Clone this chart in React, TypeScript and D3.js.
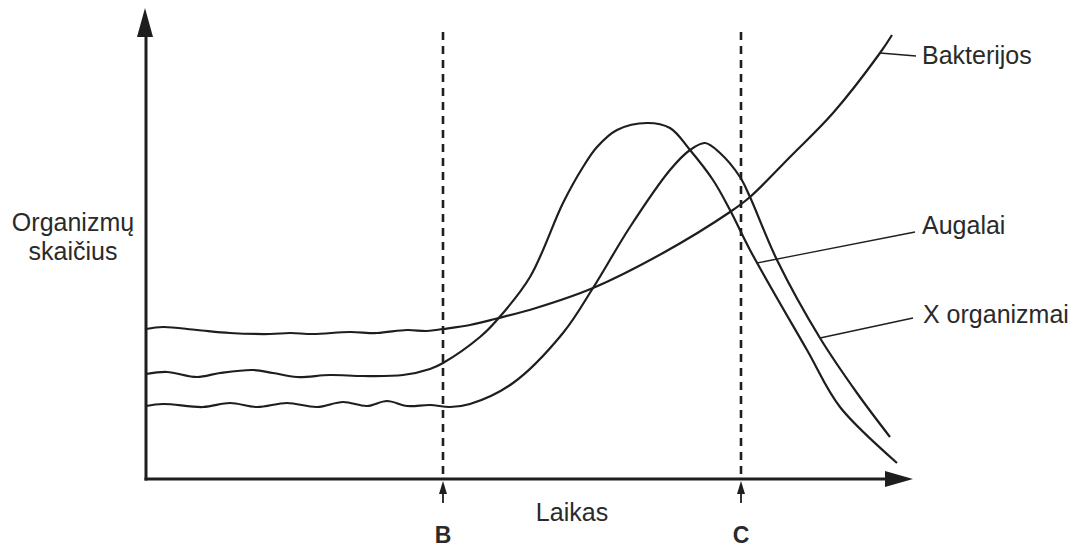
import React from "react";
import * as d3 from "d3";

// Time (arbitrary units) and organism counts (arbitrary units)
const bacteriaT = [0, 17, 51, 84, 124, 144, 167, 204, 231, 261, 281, 297, 324, 349, 390, 447, 517, 584, 604, 644, 687, 734, 746];
const bacteriaN = [150, 152, 149, 146, 145, 146, 145, 147, 146, 149, 148, 150, 154, 160, 171, 191, 226, 267, 282, 322, 366, 426, 444];

const plantT = [0, 21, 51, 74, 107, 127, 151, 184, 217, 257, 284, 297, 334, 351, 384, 417, 437, 451, 471, 501, 524, 544, 567, 584, 604, 661, 694, 751];
const plantN = [105, 107, 102, 106, 109, 106, 102, 104, 103, 104, 110, 116, 142, 159, 202, 276, 312, 332, 349, 356, 351, 329, 299, 269, 229, 129, 72, 16];

const xOrgT = [0, 17, 57, 84, 111, 141, 171, 197, 221, 241, 261, 284, 304, 324, 367, 417, 447, 484, 524, 544, 559, 574, 594, 604, 631, 674, 711, 744];
const xOrgN = [73, 75, 72, 76, 72, 76, 72, 77, 73, 78, 73, 74, 72, 75, 96, 146, 191, 252, 309, 329, 336, 326, 302, 282, 219, 141, 86, 42];

const markerLabels = ["B", "C"];
const markerTimes = [297, 595];

const seriesLabels = ["Bakterijos", "Augalai", "X organizmai"];
// anchor point on each curve for the leader line (time, count)
const anchorT = [734, 611, 674];
const anchorN = [426, 216, 141];

const yLabelLines = ["Organizmų", "skaičius"];
const xLabel = "Laikas";

export default function App() {
  const W = 1082, H = 548;
  const x0 = 146, x1 = 906, yBase = 479, yTop = 9;
  const x = d3.scaleLinear().domain([0, 760]).range([x0, x1]);
  const y = d3.scaleLinear().domain([0, 470]).range([yBase, yTop]);
  const line = d3
    .line<[number, number]>()
    .x((d) => x(d[0]))
    .y((d) => y(d[1]))
    .curve(d3.curveCatmullRom.alpha(0.5));

  const zip = (a: number[], b: number[]) => a.map((v, i) => [v, b[i]] as [number, number]);
  const curves = [zip(bacteriaT, bacteriaN), zip(plantT, plantN), zip(xOrgT, xOrgN)];

  const stroke = "#1e1e1e";
  const textFill = "#2a2a2a";
  const font = "'Liberation Sans', Arial, Helvetica, sans-serif";

  // label layout
  const labelX = [916, 915, 913];
  const labelY = [56, 232, 318];
  const textX = [922, 922, 923];
  const textBase = [64, 234, 323];

  return (
    <svg width={W} height={H} style={{ position: "absolute", left: 0, top: 0, background: "#fff" }} fontFamily={font}>
      {/* dashed markers */}
      {markerTimes.map((t, i) => (
        <g key={markerLabels[i]}>
          <line x1={x(t)} x2={x(t)} y1={32} y2={yBase} stroke={stroke} strokeWidth={2.6} strokeDasharray="8,6" />
          <line x1={x(t)} x2={x(t)} y1={490} y2={503} stroke={stroke} strokeWidth={1.8} />
          <path d={`M${x(t)},481 L${x(t) - 4},494 L${x(t) + 4},494 Z`} fill={stroke} />
          <text x={x(t)} y={543} textAnchor="middle" fontSize={23} fontWeight="bold" fill={textFill}>
            {markerLabels[i]}
          </text>
        </g>
      ))}

      {/* axes */}
      <line x1={x0} x2={x0} y1={30} y2={yBase + 1.5} stroke={stroke} strokeWidth={3} />
      <path d={`M${x0 - 1},8 L${x0 - 9},37 L${x0 + 7},37 Z`} fill={stroke} />
      <line x1={x0 - 1.5} x2={890} y1={yBase} y2={yBase} stroke={stroke} strokeWidth={3} />
      <path d={`M913,${yBase} L885,${yBase - 8} L885,${yBase + 8} Z`} fill={stroke} />

      {/* curves */}
      {curves.map((c, i) => (
        <path key={i} d={line(c) || ""} fill="none" stroke={stroke} strokeWidth={2.2} />
      ))}

      {/* leader lines and series labels */}
      {seriesLabels.map((s, i) => (
        <g key={s}>
          <line x1={x(anchorT[i])} y1={y(anchorN[i])} x2={labelX[i]} y2={labelY[i]} stroke={stroke} strokeWidth={1.3} />
          <text x={textX[i]} y={textBase[i]} fontSize={25} fill={textFill}>
            {s}
          </text>
        </g>
      ))}

      {/* axis titles */}
      {yLabelLines.map((l, i) => (
        <text key={l} x={73} y={231 + i * 29} fontSize={25} textAnchor="middle" fill={textFill}>
          {l}
        </text>
      ))}
      <text x={572} y={521} textAnchor="middle" fontSize={25} fill={textFill}>
        {xLabel}
      </text>
    </svg>
  );
}
